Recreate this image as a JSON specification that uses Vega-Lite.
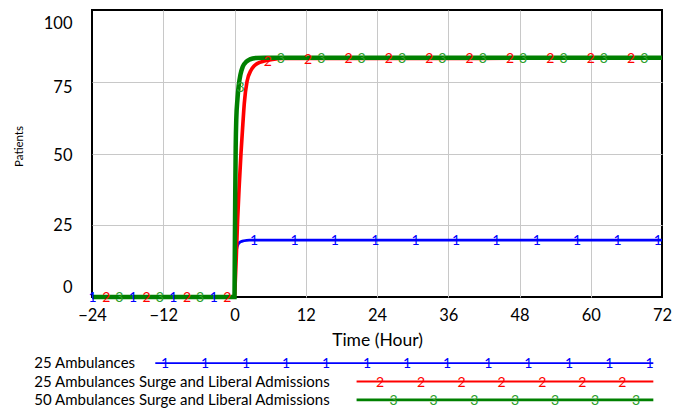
{
  "$schema": "https://vega.github.io/schema/vega-lite/v6.json",
  "padding": {"left": 12, "top": 9, "right": 5, "bottom": 0},
  "background": "white",
  "config": {"font": "Lato", "view": {"stroke": null}},
  "spacing": 57,
  "bounds": "flush",
  "datasets": {
    "curves": [
      {"s": "25 Ambulances", "t": -24, "v": 0}, {"s": "25 Ambulances", "t": 0, "v": 0}, {"s": "25 Ambulances", "t": 0.1, "v": 8}, {"s": "25 Ambulances", "t": 0.2, "v": 13.5}, {"s": "25 Ambulances", "t": 0.35, "v": 16.5}, {"s": "25 Ambulances", "t": 0.6, "v": 18.3}, {"s": "25 Ambulances", "t": 1.0, "v": 19.2}, {"s": "25 Ambulances", "t": 1.6, "v": 19.6}, {"s": "25 Ambulances", "t": 2.5, "v": 19.8}, {"s": "25 Ambulances", "t": 72, "v": 19.8},
      {"s": "25 Ambulances Surge and Liberal Admissions", "t": -24, "v": 0}, {"s": "25 Ambulances Surge and Liberal Admissions", "t": 0, "v": 0}, {"s": "25 Ambulances Surge and Liberal Admissions", "t": 0.1, "v": 4}, {"s": "25 Ambulances Surge and Liberal Admissions", "t": 0.3, "v": 14}, {"s": "25 Ambulances Surge and Liberal Admissions", "t": 0.52, "v": 26.7}, {"s": "25 Ambulances Surge and Liberal Admissions", "t": 0.8, "v": 39}, {"s": "25 Ambulances Surge and Liberal Admissions", "t": 1.09, "v": 50}, {"s": "25 Ambulances Surge and Liberal Admissions", "t": 1.4, "v": 60}, {"s": "25 Ambulances Surge and Liberal Admissions", "t": 1.65, "v": 67.5}, {"s": "25 Ambulances Surge and Liberal Admissions", "t": 2.1, "v": 75}, {"s": "25 Ambulances Surge and Liberal Admissions", "t": 2.78, "v": 79}, {"s": "25 Ambulances Surge and Liberal Admissions", "t": 3.3, "v": 80.5}, {"s": "25 Ambulances Surge and Liberal Admissions", "t": 3.89, "v": 81.4}, {"s": "25 Ambulances Surge and Liberal Admissions", "t": 5, "v": 82.2}, {"s": "25 Ambulances Surge and Liberal Admissions", "t": 6.4, "v": 82.8}, {"s": "25 Ambulances Surge and Liberal Admissions", "t": 8, "v": 83.1}, {"s": "25 Ambulances Surge and Liberal Admissions", "t": 72, "v": 83.2},
      {"s": "50 Ambulances Surge and Liberal Admissions", "t": -24, "v": 0}, {"s": "50 Ambulances Surge and Liberal Admissions", "t": 0, "v": 0}, {"s": "50 Ambulances Surge and Liberal Admissions", "t": 0.05, "v": 15}, {"s": "50 Ambulances Surge and Liberal Admissions", "t": 0.12, "v": 35}, {"s": "50 Ambulances Surge and Liberal Admissions", "t": 0.2, "v": 52}, {"s": "50 Ambulances Surge and Liberal Admissions", "t": 0.3, "v": 62}, {"s": "50 Ambulances Surge and Liberal Admissions", "t": 0.5, "v": 69}, {"s": "50 Ambulances Surge and Liberal Admissions", "t": 0.7, "v": 73.5}, {"s": "50 Ambulances Surge and Liberal Admissions", "t": 1.0, "v": 77.5}, {"s": "50 Ambulances Surge and Liberal Admissions", "t": 1.4, "v": 80.3}, {"s": "50 Ambulances Surge and Liberal Admissions", "t": 2.0, "v": 82}, {"s": "50 Ambulances Surge and Liberal Admissions", "t": 2.6, "v": 82.8}, {"s": "50 Ambulances Surge and Liberal Admissions", "t": 3.6, "v": 83.3}, {"s": "50 Ambulances Surge and Liberal Admissions", "t": 5, "v": 83.4}, {"s": "50 Ambulances Surge and Liberal Admissions", "t": 72, "v": 83.4}
    ],
    "markers": [
      {"s": "25 Ambulances", "t": -23.9, "v": 0, "d": "1"}, {"s": "25 Ambulances", "t": -17.1, "v": 0, "d": "1"}, {"s": "25 Ambulances", "t": -10.3, "v": 0, "d": "1"}, {"s": "25 Ambulances", "t": -3.5, "v": 0, "d": "1"}, {"s": "25 Ambulances", "t": 3.3, "v": 19.8, "d": "1"}, {"s": "25 Ambulances", "t": 10.1, "v": 19.8, "d": "1"}, {"s": "25 Ambulances", "t": 16.9, "v": 19.8, "d": "1"}, {"s": "25 Ambulances", "t": 23.7, "v": 19.8, "d": "1"}, {"s": "25 Ambulances", "t": 30.5, "v": 19.8, "d": "1"}, {"s": "25 Ambulances", "t": 37.3, "v": 19.8, "d": "1"}, {"s": "25 Ambulances", "t": 44.1, "v": 19.8, "d": "1"}, {"s": "25 Ambulances", "t": 50.9, "v": 19.8, "d": "1"}, {"s": "25 Ambulances", "t": 57.7, "v": 19.8, "d": "1"}, {"s": "25 Ambulances", "t": 64.5, "v": 19.8, "d": "1"}, {"s": "25 Ambulances", "t": 71.3, "v": 19.8, "d": "1"},
      {"s": "25 Ambulances Surge and Liberal Admissions", "t": -21.6, "v": 0, "d": "2"}, {"s": "25 Ambulances Surge and Liberal Admissions", "t": -14.8, "v": 0, "d": "2"}, {"s": "25 Ambulances Surge and Liberal Admissions", "t": -8.0, "v": 0, "d": "2"}, {"s": "25 Ambulances Surge and Liberal Admissions", "t": -1.2, "v": 0, "d": "2"}, {"s": "25 Ambulances Surge and Liberal Admissions", "t": 5.6, "v": 82.4, "d": "2"}, {"s": "25 Ambulances Surge and Liberal Admissions", "t": 12.4, "v": 83.1, "d": "2"}, {"s": "25 Ambulances Surge and Liberal Admissions", "t": 19.2, "v": 83.2, "d": "2"}, {"s": "25 Ambulances Surge and Liberal Admissions", "t": 26.0, "v": 83.2, "d": "2"}, {"s": "25 Ambulances Surge and Liberal Admissions", "t": 32.8, "v": 83.2, "d": "2"}, {"s": "25 Ambulances Surge and Liberal Admissions", "t": 39.6, "v": 83.2, "d": "2"}, {"s": "25 Ambulances Surge and Liberal Admissions", "t": 46.4, "v": 83.2, "d": "2"}, {"s": "25 Ambulances Surge and Liberal Admissions", "t": 53.2, "v": 83.2, "d": "2"}, {"s": "25 Ambulances Surge and Liberal Admissions", "t": 60.0, "v": 83.2, "d": "2"}, {"s": "25 Ambulances Surge and Liberal Admissions", "t": 66.8, "v": 83.2, "d": "2"},
      {"s": "50 Ambulances Surge and Liberal Admissions", "t": -19.4, "v": 0, "d": "3"}, {"s": "50 Ambulances Surge and Liberal Admissions", "t": -12.6, "v": 0, "d": "3"}, {"s": "50 Ambulances Surge and Liberal Admissions", "t": -5.8, "v": 0, "d": "3"}, {"s": "50 Ambulances Surge and Liberal Admissions", "t": 1.0, "v": 73, "d": "3"}, {"s": "50 Ambulances Surge and Liberal Admissions", "t": 7.8, "v": 83.4, "d": "3"}, {"s": "50 Ambulances Surge and Liberal Admissions", "t": 14.6, "v": 83.4, "d": "3"}, {"s": "50 Ambulances Surge and Liberal Admissions", "t": 21.4, "v": 83.4, "d": "3"}, {"s": "50 Ambulances Surge and Liberal Admissions", "t": 28.2, "v": 83.4, "d": "3"}, {"s": "50 Ambulances Surge and Liberal Admissions", "t": 35.0, "v": 83.4, "d": "3"}, {"s": "50 Ambulances Surge and Liberal Admissions", "t": 41.8, "v": 83.4, "d": "3"}, {"s": "50 Ambulances Surge and Liberal Admissions", "t": 48.6, "v": 83.4, "d": "3"}, {"s": "50 Ambulances Surge and Liberal Admissions", "t": 55.4, "v": 83.4, "d": "3"}, {"s": "50 Ambulances Surge and Liberal Admissions", "t": 62.2, "v": 83.4, "d": "3"}, {"s": "50 Ambulances Surge and Liberal Admissions", "t": 69.0, "v": 83.4, "d": "3"}
    ],
    "legendLines": [
      {"s": "25 Ambulances", "x0": -13.34, "x1": 70.54},
      {"s": "25 Ambulances Surge and Liberal Admissions", "x0": 20.56, "x1": 70.54},
      {"s": "50 Ambulances Surge and Liberal Admissions", "x0": 20.56, "x1": 70.54}
    ],
    "legendLabels": [
      {"s": "25 Ambulances", "x": -33.72},
      {"s": "25 Ambulances Surge and Liberal Admissions", "x": -33.72},
      {"s": "50 Ambulances Surge and Liberal Admissions", "x": -33.72}
    ],
    "legendMarkers": [
      {"s": "25 Ambulances", "x": -11.71, "d": "1"}, {"s": "25 Ambulances", "x": -4.97, "d": "1"}, {"s": "25 Ambulances", "x": 1.94, "d": "1"}, {"s": "25 Ambulances", "x": 8.67, "d": "1"}, {"s": "25 Ambulances", "x": 15.41, "d": "1"}, {"s": "25 Ambulances", "x": 22.32, "d": "1"}, {"s": "25 Ambulances", "x": 29.05, "d": "1"}, {"s": "25 Ambulances", "x": 35.79, "d": "1"}, {"s": "25 Ambulances", "x": 42.74, "d": "1"}, {"s": "25 Ambulances", "x": 49.48, "d": "1"}, {"s": "25 Ambulances", "x": 56.34, "d": "1"}, {"s": "25 Ambulances", "x": 63.12, "d": "1"}, {"s": "25 Ambulances", "x": 69.91, "d": "1"},
      {"s": "25 Ambulances Surge and Liberal Admissions", "x": 24.51, "d": "2"}, {"s": "25 Ambulances Surge and Liberal Admissions", "x": 31.41, "d": "2"}, {"s": "25 Ambulances Surge and Liberal Admissions", "x": 38.25, "d": "2"}, {"s": "25 Ambulances Surge and Liberal Admissions", "x": 44.98, "d": "2"}, {"s": "25 Ambulances Surge and Liberal Admissions", "x": 51.84, "d": "2"}, {"s": "25 Ambulances Surge and Liberal Admissions", "x": 58.58, "d": "2"}, {"s": "25 Ambulances Surge and Liberal Admissions", "x": 65.31, "d": "2"},
      {"s": "50 Ambulances Surge and Liberal Admissions", "x": 26.8, "d": "3"}, {"s": "50 Ambulances Surge and Liberal Admissions", "x": 33.53, "d": "3"}, {"s": "50 Ambulances Surge and Liberal Admissions", "x": 40.39, "d": "3"}, {"s": "50 Ambulances Surge and Liberal Admissions", "x": 47.24, "d": "3"}, {"s": "50 Ambulances Surge and Liberal Admissions", "x": 53.98, "d": "3"}, {"s": "50 Ambulances Surge and Liberal Admissions", "x": 60.72, "d": "3"}, {"s": "50 Ambulances Surge and Liberal Admissions", "x": 67.62, "d": "3"}
    ]
  },
  "vconcat": [
    {
      "width": 570,
      "height": 287,
      "view": {"stroke": "black", "strokeWidth": 2},
      "resolve": {"scale": {"color": "independent", "strokeWidth": "independent"}},
      "layer": [
        {
          "data": {"name": "curves"},
          "mark": {"type": "line", "interpolate": "monotone"},
          "encoding": {
            "x": {
              "field": "t", "type": "quantitative",
              "scale": {"domain": [-24, 72], "nice": false, "zero": false},
              "axis": {
                "title": "Time (Hour)", "titleFontSize": 17.5, "titleFontWeight": "normal", "titleColor": "black", "titlePadding": 8,
                "values": [-24, -18, -12, -6, 0, 6, 12, 18, 24, 30, 36, 42, 48, 54, 60, 66, 72],
                "labelExpr": "datum.value % 12 === 0 ? datum.label : ''",
                "labelFontSize": 16.5, "labelColor": "black", "labelPadding": 10, "labelFlush": false, "labelOverlap": false,
                "ticks": false, "domain": false,
                "grid": true, "gridColor": "#c8c8c8", "gridWidth": 1,
                "gridOpacity": {"condition": {"test": "datum.value == -24 || datum.value == 72", "value": 0}, "value": 1}
              }
            },
            "y": {
              "field": "v", "type": "quantitative",
              "scale": {"domain": [0, 100], "nice": false},
              "axis": {
                "title": "Patients", "titleFontSize": 11.5, "titleFontWeight": "normal", "titleColor": "black", "titlePadding": 19, "titleY": 136,
                "values": [0, 25, 50, 75, 100],
                "labelFontSize": 16.5, "labelColor": "black", "labelPadding": 20,
                "labelOffset": {"condition": [{"test": "datum.value == 0", "value": -10}, {"test": "datum.value == 100", "value": 13}, {"test": "datum.value == 75", "value": 6}, {"test": "datum.value == 50", "value": 2}], "value": 0},
                "ticks": false, "domain": false,
                "grid": true, "gridColor": "#c8c8c8", "gridWidth": 1,
                "gridOpacity": {"condition": {"test": "datum.value == 0 || datum.value == 100", "value": 0}, "value": 1}
              }
            },
            "color": {
              "field": "s", "type": "nominal",
              "scale": {"domain": ["50 Ambulances Surge and Liberal Admissions", "25 Ambulances Surge and Liberal Admissions", "25 Ambulances"], "range": ["#008000", "#ff0000", "#0000ff"]},
              "legend": null
            },
            "strokeWidth": {
              "field": "s", "type": "nominal",
              "scale": {"domain": ["50 Ambulances Surge and Liberal Admissions", "25 Ambulances Surge and Liberal Admissions", "25 Ambulances"], "range": [4.5, 2.8, 1.6]},
              "legend": null
            },
            "order": {"field": "t", "type": "quantitative"}
          }
        },
        {
          "data": {"name": "markers"},
          "mark": {"type": "text", "baseline": "middle", "align": "center", "fontSize": 14, "dy": 1},
          "encoding": {
            "x": {"field": "t", "type": "quantitative"},
            "y": {"field": "v", "type": "quantitative"},
            "text": {"field": "d"},
            "color": {
              "field": "s", "type": "nominal",
              "scale": {"domain": ["25 Ambulances", "25 Ambulances Surge and Liberal Admissions", "50 Ambulances Surge and Liberal Admissions"], "range": ["#0000ff", "#ff0000", "#2ca02c"]},
              "legend": null
            }
          }
        }
      ]
    },
    {
      "width": 570,
      "height": 55,
      "resolve": {"scale": {"color": "independent", "strokeWidth": "independent"}},
      "layer": [
        {
          "data": {"name": "legendLines"},
          "mark": {"type": "rule"},
          "encoding": {
            "x": {"field": "x0", "type": "quantitative", "scale": {"domain": [-24, 72], "nice": false, "zero": false}, "axis": null},
            "x2": {"field": "x1"},
            "y": {"field": "s", "type": "nominal", "scale": {"type": "point", "domain": ["25 Ambulances", "25 Ambulances Surge and Liberal Admissions", "50 Ambulances Surge and Liberal Admissions"], "padding": 0.5}, "axis": null},
            "color": {
              "field": "s", "type": "nominal",
              "scale": {"domain": ["25 Ambulances", "25 Ambulances Surge and Liberal Admissions", "50 Ambulances Surge and Liberal Admissions"], "range": ["#0000ff", "#ff0000", "#008000"]},
              "legend": null
            },
            "strokeWidth": {
              "field": "s", "type": "nominal",
              "scale": {"domain": ["25 Ambulances", "25 Ambulances Surge and Liberal Admissions", "50 Ambulances Surge and Liberal Admissions"], "range": [1.6, 2.8, 4.5]},
              "legend": null
            }
          }
        },
        {
          "data": {"name": "legendLabels"},
          "mark": {"type": "text", "align": "left", "baseline": "middle", "fontSize": 15, "color": "black"},
          "encoding": {
            "x": {"field": "x", "type": "quantitative"},
            "y": {"field": "s", "type": "nominal"},
            "text": {"field": "s"}
          }
        },
        {
          "data": {"name": "legendMarkers"},
          "mark": {"type": "text", "align": "center", "baseline": "middle", "fontSize": 14, "dy": 1},
          "encoding": {
            "x": {"field": "x", "type": "quantitative"},
            "y": {"field": "s", "type": "nominal"},
            "text": {"field": "d"},
            "color": {
              "field": "s", "type": "nominal",
              "scale": {"domain": ["25 Ambulances", "25 Ambulances Surge and Liberal Admissions", "50 Ambulances Surge and Liberal Admissions"], "range": ["#0000ff", "#ff0000", "#2ca02c"]},
              "legend": null
            }
          }
        }
      ]
    }
  ]
}
